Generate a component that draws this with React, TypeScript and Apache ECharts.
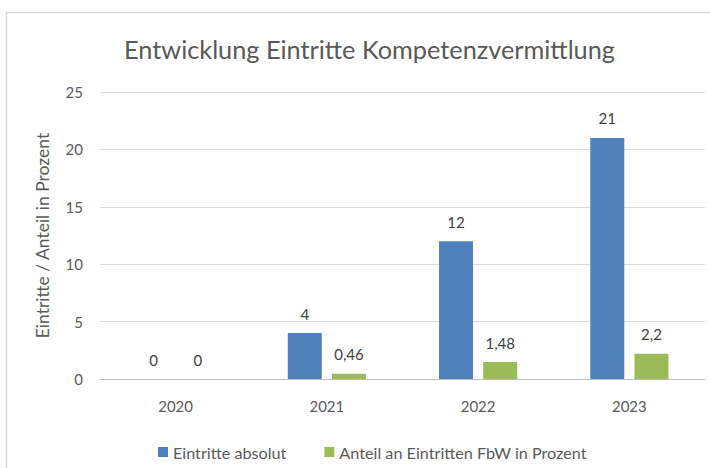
import React, { useEffect, useRef } from "react";
import * as echarts from "echarts";

const categories = ["2020", "2021", "2022", "2023"];
const eintritteAbsolut = [0, 4, 12, 21];
const anteilProzent = [0, 0.46, 1.48, 2.2];
const seriesNames = ["Eintritte absolut", "Anteil an Eintritten FbW in Prozent"];
const titleText = "Entwicklung Eintritte Kompetenzvermittlung";
const yAxisName = "Eintritte / Anteil in Prozent";

const FONT = "Lato, 'Open Sans', 'Noto Sans', sans-serif";

export default function App() {
  const ref = useRef<HTMLDivElement>(null);
  useEffect(() => {
    if (!ref.current) return;
    const chart = echarts.init(ref.current, null, { renderer: "svg" });
    const fmt = (p: any) => String(p.value).replace(".", ",");
    const labelCfg = {
      show: true,
      position: "top" as const,
      distance: 12,
      fontSize: 15,
      color: "#404040",
      fontFamily: FONT,
      formatter: fmt,
    };
    chart.setOption({
      animation: false,
      backgroundColor: "#ffffff",
      textStyle: { fontFamily: FONT },
      title: {
        text: titleText,
        left: 119,
        top: 31,
        textStyle: { fontSize: 25.3, fontWeight: "normal", color: "#595959", fontFamily: FONT },
      },
      graphic: [
        {
          type: "rect",
          shape: { x: 6.5, y: 12.5, width: 730, height: 480 },
          style: { fill: "none", stroke: "#d9d9d9", lineWidth: 1.5 },
          silent: true,
        },
      ],
      legend: {
        data: seriesNames,
        top: 439,
        left: 153,
        itemWidth: 10,
        itemHeight: 10,
        itemGap: 38,
        icon: "rect",
        textStyle: { fontSize: 16.2, color: "#595959", fontFamily: FONT },
      },
      grid: { left: 100, right: 5, top: 92, bottom: 89, containLabel: false },
      xAxis: {
        type: "category",
        data: categories,
        axisTick: { show: false },
        axisLine: { lineStyle: { color: "#bfbfbf", width: 1 } },
        axisLabel: { fontSize: 15, color: "#595959", margin: 19, fontFamily: FONT },
      },
      yAxis: {
        type: "value",
        min: 0,
        max: 25,
        interval: 5,
        name: yAxisName,
        nameLocation: "middle",
        nameRotate: 90,
        nameGap: 49,
        nameTextStyle: { fontSize: 17.5, color: "#595959", fontFamily: FONT },
        axisLine: { show: false },
        axisTick: { show: false },
        axisLabel: { fontSize: 15, color: "#595959", margin: 17, fontFamily: FONT },
        splitLine: { lineStyle: { color: "#d9d9d9", width: 1 } },
      },
      series: [
        {
          name: seriesNames[0],
          type: "bar",
          data: eintritteAbsolut,
          barWidth: 34,
          barGap: "30%",
          itemStyle: { color: "#4F81BD" },
          label: labelCfg,
        },
        {
          name: seriesNames[1],
          type: "bar",
          data: anteilProzent,
          barWidth: 34,
          barGap: "30%",
          itemStyle: { color: "#9BBB59" },
          label: labelCfg,
        },
      ],
    });
    return () => chart.dispose();
  }, []);
  return (
    <div
      ref={ref}
      style={{ position: "absolute", left: 0, top: 0, width: 710, height: 468 }}
    />
  );
}
